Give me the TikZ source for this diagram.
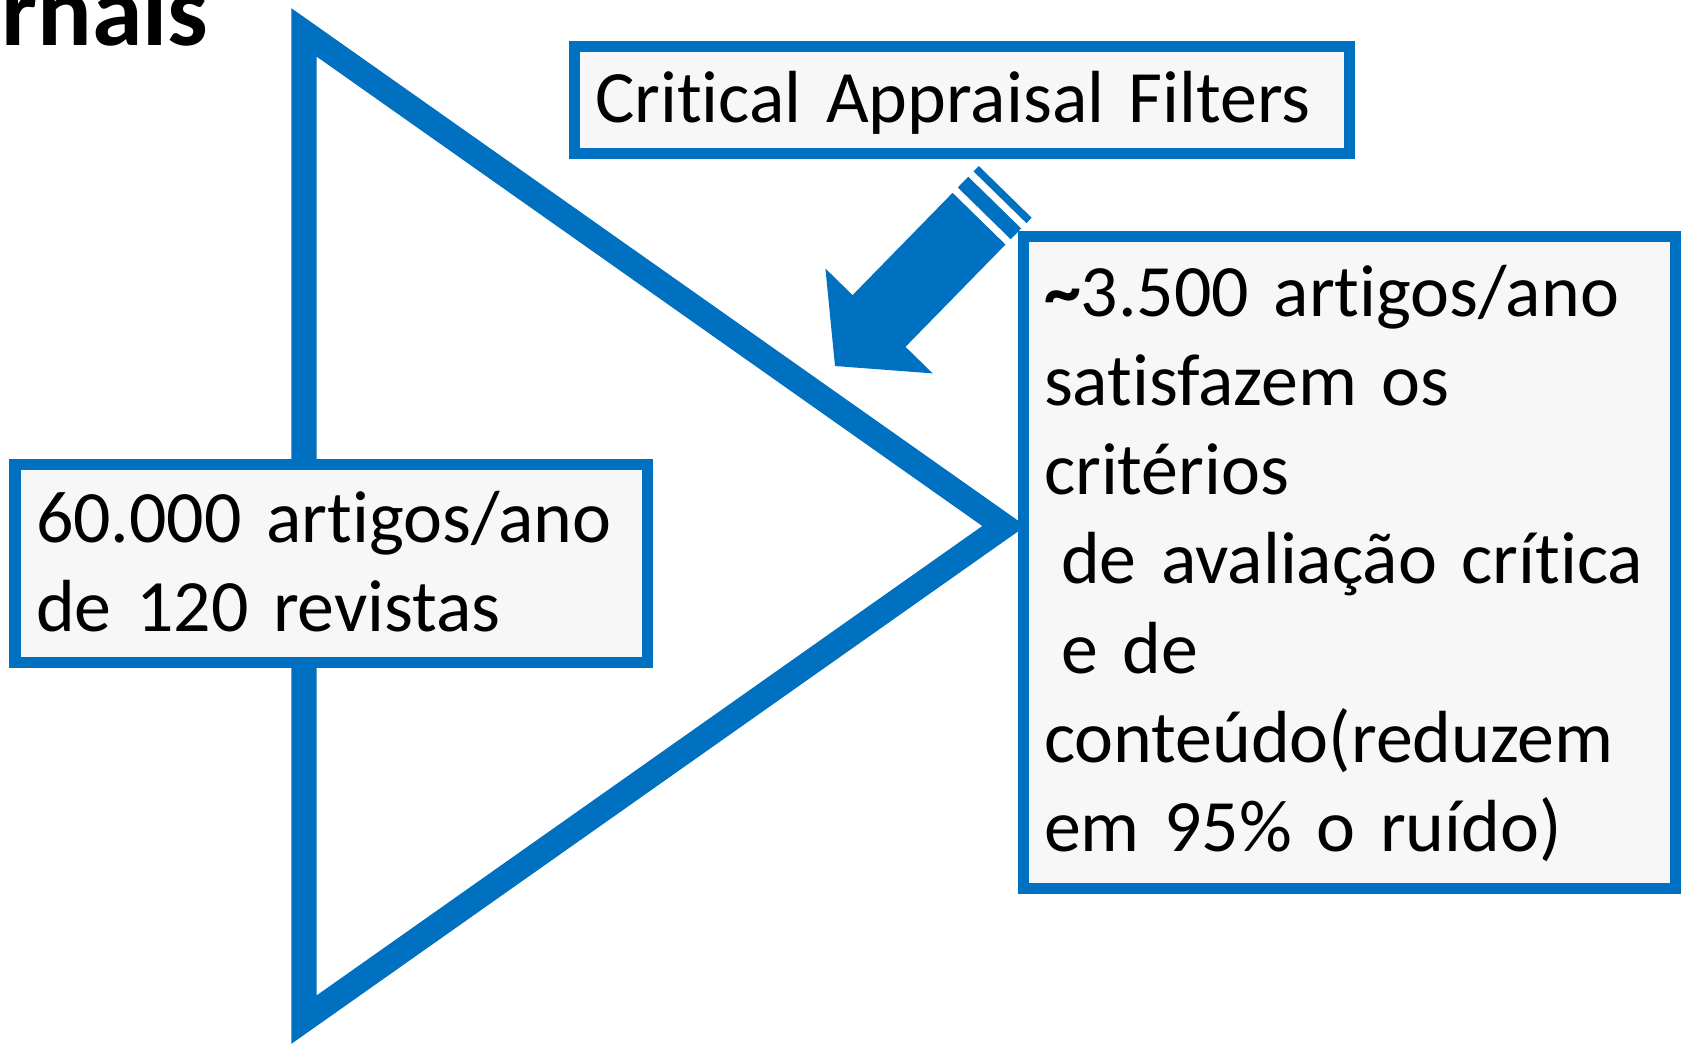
\documentclass[tikz,border=0pt]{standalone}
\usepackage{fontspec}
\setmainfont{Carlito}[Ligatures=NoCommon]
\usepackage{tikz}
\usetikzlibrary{positioning}
\definecolor{appblue}{HTML}{0070C0}
\definecolor{boxfill}{HTML}{F7F7F7}

\begin{document}
\begin{tikzpicture}[x=0.01cm, y=-0.01cm,
    textbox/.style={draw=appblue, line width=0.11cm, fill=boxfill, anchor=north west,
        inner xsep=0.21cm, inner ysep=0pt, outer sep=0pt, align=left,
        font=\fontsize{21pt}{25.34pt}\selectfont}]
\useasboundingbox (0,0) rectangle (1683,1048);
\clip (0,0) rectangle (1683,1048);
% Funnel triangle behind the boxes
\draw[appblue, line width=0.25cm] (304,32.4) -- (1004,526) -- (304,1019.6) -- cycle;
% Title, cut off at the page edge
\node[anchor=base east, inner sep=0pt, font=\fontsize{29pt}{35pt}\selectfont\bfseries] (title) at (209,45) {rnais};
% Striped arrow from the filters down to the funnel
\begin{scope}[shift={(835,366)}, rotate=45.65]
\fill[appblue] (0,0) -- (63,75) -- (63,37) -- (206,37) -- (206,-37) -- (63,-37) -- (63,-75) -- cycle;
\foreach \a/\b in {213.5/228.5, 236/243.5} {
    \fill[appblue] (\a,-37) -- (\b,-37) -- (\b,37) -- (\a,37) -- cycle;
}
\end{scope}
% Boxes
\node[textbox, text width=7.33cm, text height=0.766cm, text depth=0.304cm] (filters) at (574,46) {Critical Appraisal Filters};
\node[textbox, text width=5.90cm, text height=0.78cm, text depth=1.204cm] (input) at (15,464) {60.000 artigos/ano\\de 120 revistas};
\node[textbox, text width=6.10cm, text height=0.806cm, text depth=5.714cm] (output) at (1023,236)
    {{\bfseries\textasciitilde}3.500 artigos/ano\\satisfazem os\\critérios\\\hspace*{0.17cm}de avaliação crítica\\\hspace*{0.17cm}e de\\conteúdo(reduzem\\em 95\% o ruído)};
\end{tikzpicture}
\end{document}
